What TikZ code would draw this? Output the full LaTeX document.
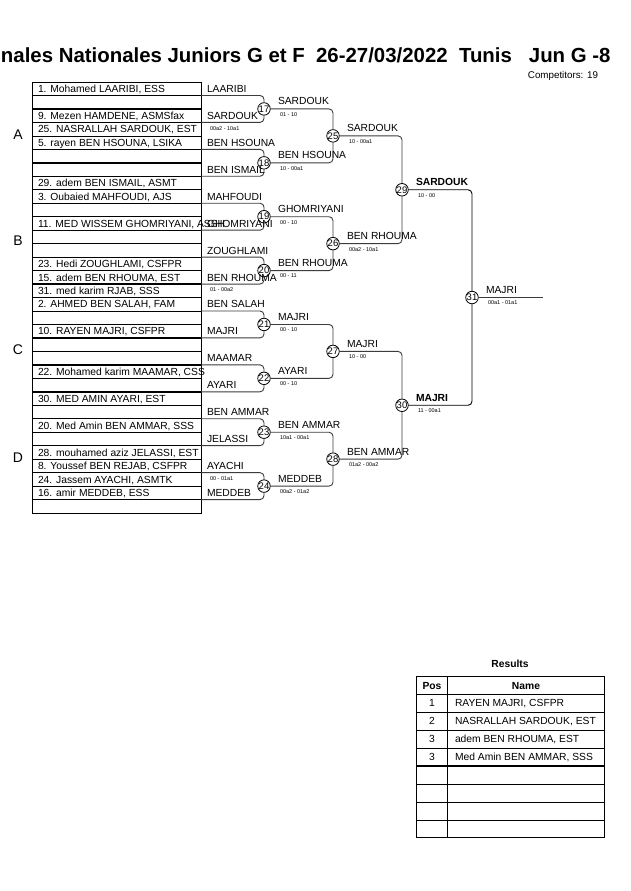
\documentclass[tikz,border=0pt]{standalone}
\usepackage{fontspec}
\setmainfont{Liberation Sans}
\definecolor{linec}{HTML}{3C3C3C}
\begin{document}
\begin{tikzpicture}[x=1pt,y=-1pt,
  every node/.style={inner sep=0pt, outer sep=0pt},
  txt/.style={anchor=base west, font=\fontsize{10.3}{12}\selectfont},
  btxt/.style={anchor=base west, font=\fontsize{10.3}{12}\selectfont\bfseries},
  ctxt/.style={anchor=base, font=\fontsize{10.3}{12}\selectfont},
  bctxt/.style={anchor=base, font=\fontsize{10.3}{12}\selectfont\bfseries},
  sc/.style={anchor=west, font=\fontsize{5.5}{6}\selectfont},
  mc/.style={circle, draw=black, fill=white, line width=0.8pt, minimum size=12.5pt, font=\fontsize{9.5}{10}\selectfont},
  bl/.style={draw=linec, line width=0.9pt, rounded corners=4pt},
  septhin/.style={draw=black, line width=0.6pt},
  septhick/.style={draw=black, line width=1.4pt},
  grp/.style={font=\fontsize{14}{16}\selectfont}
]
\useasboundingbox (0,0) rectangle (630,891);
\fill[white] (0,0) rectangle (630,891);

% title
\node[anchor=base west, font=\fontsize{20.4}{24}\selectfont\bfseries] (title) at (1,63)
  {nales Nationales Juniors G et F\ \ 26-27/03/2022\ \ Tunis\ \ \ Jun G -8};
\node[anchor=base east, font=\fontsize{9.8}{11}\selectfont] (comp) at (598,78) {Competitors: 19};

% group letters
\node[grp] (gA) at (18,135) {A};
\node[grp] (gB) at (18,241) {B};
\node[grp] (gC) at (18,350) {C};
\node[grp] (gD) at (18,458) {D};

% draw table
\foreach \i in {1,4,5,9,11,13,17,20,22,27,28,29,30}
  \draw[septhin] (32,{82+13.47*\i}) -- (201,{82+13.47*\i});
\foreach \i in {2,3,6,7,8,10,12,14,15,16,18,19,21,23,24,25,26,31}
  \draw[septhick] (32,{82+13.47*\i}) -- (201,{82+13.47*\i});
\draw[line width=1pt] (32,82) rectangle (201,513.04);

\foreach \i/\t in {1/{1. Mohamed LAARIBI, ESS},3/{9. Mezen HAMDENE, ASMSfax},
  4/{25. NASRALLAH SARDOUK, EST},5/{5. rayen BEN HSOUNA, LSIKA},8/{29. adem BEN ISMAIL, ASMT},
  9/{3. Oubaied MAHFOUDI, AJS},11/{11. MED WISSEM GHOMRIYANI, ASSH},14/{23. Hedi ZOUGHLAMI, CSFPR},
  15/{15. adem BEN RHOUMA, EST},16/{31. med karim RJAB, SSS},17/{2. AHMED BEN SALAH, FAM},
  19/{10. RAYEN MAJRI, CSFPR},22/{22. Mohamed karim MAAMAR, CSS},24/{30. MED AMIN AYARI, EST},
  26/{20. Med Amin BEN AMMAR, SSS},28/{28. mouhamed aziz JELASSI, EST},29/{8. Youssef BEN REJAB, CSFPR},
  30/{24. Jassem AYACHI, ASMTK},31/{16. amir MEDDEB, ESS}}
  \node[txt] (row\i) at (38,{82+13.47*(\i-0.5)+3.7}) {\t};

% round 1 circles and brackets
\foreach \k in {0,...,7} {
  \pgfmathtruncatemacro\m{17+\k}
  \node[mc] (m\m) at (264,{108.94+53.88*\k}) {\m};
  \coordinate (t\m) at (201,{82+13.47*(4*\k+1)});
  \coordinate (b\m) at (201,{82+13.47*(4*\k+3)});
  \draw[bl] (t\m) -| (m\m.north);
  \draw[bl] (b\m) -| (m\m.south);
}
% round 1 names
\foreach \k/\a/\b in {0/LAARIBI/SARDOUK,1/BEN HSOUNA/BEN ISMAIL,2/MAHFOUDI/GHOMRIYANI,
  3/ZOUGHLAMI/BEN RHOUMA,4/BEN SALAH/MAJRI,5/MAAMAR/AYARI,6/BEN AMMAR/JELASSI,7/AYACHI/MEDDEB} {
  \node[txt] (pa\k) at (207,{82+13.47*(4*\k+0.5)+3.7}) {\a};
  \node[txt] (pb\k) at (207,{82+13.47*(4*\k+2.5)+3.7}) {\b};
}
\node[sc] (r1s17) at (210,128.2) {00a2 - 10a1};
\node[sc] (r1s20) at (210,289.8) {01 - 00a2};
\node[sc] (r1s24) at (210,478.4) {00 - 01a1};

% later rounds
\node[mc] (m25) at (333,135.88) {25};
\node[mc] (m26) at (333,243.64) {26};
\node[mc] (m27) at (333,351.40) {27};
\node[mc] (m28) at (333,459.16) {28};
\node[mc] (m29) at (402,189.76) {29};
\node[mc] (m30) at (402,405.28) {30};
\node[mc] (m31) at (472,297.52) {31};
\coordinate (fin) at (543,297.52);

\draw[bl] (m17.east) -| (m25.north);
\draw[bl] (m18.east) -| (m25.south);
\draw[bl] (m19.east) -| (m26.north);
\draw[bl] (m20.east) -| (m26.south);
\draw[bl] (m21.east) -| (m27.north);
\draw[bl] (m22.east) -| (m27.south);
\draw[bl] (m23.east) -| (m28.north);
\draw[bl] (m24.east) -| (m28.south);
\draw[bl] (m25.east) -| (m29.north);
\draw[bl] (m26.east) -| (m29.south);
\draw[bl] (m27.east) -| (m30.north);
\draw[bl] (m28.east) -| (m30.south);
\draw[bl,draw=black] (m29.east) -| (m31.north);
\draw[bl,draw=black] (m30.east) -| (m31.south);
\draw[bl] (m31.east) -- (fin);

% winner labels
\foreach \c/\n/\s in {17/SARDOUK/01 - 10,18/BEN HSOUNA/10 - 00a1,19/GHOMRIYANI/00 - 10,
  20/BEN RHOUMA/00 - 11,21/MAJRI/00 - 10,22/AYARI/00 - 10,23/BEN AMMAR/10a1 - 00a1,
  24/MEDDEB/00a2 - 01a2,25/SARDOUK/10 - 00a1,26/BEN RHOUMA/00a2 - 10a1,27/MAJRI/10 - 00,
  28/BEN AMMAR/01a2 - 00a2,31/MAJRI/00a1 - 01a1} {
  \node[txt] (w\c) at ([xshift=14pt,yshift=4pt]m\c.center) {\n};
  \node[sc] (s\c) at ([xshift=16pt,yshift=-5.5pt]m\c.center) {\s};
}
\foreach \c/\n/\s in {29/SARDOUK/10 - 00,30/MAJRI/11 - 00a1} {
  \node[btxt] (w\c) at ([xshift=14pt,yshift=4pt]m\c.center) {\n};
  \node[sc] (s\c) at ([xshift=16pt,yshift=-5.5pt]m\c.center) {\s};
}

% results
\node[anchor=base, font=\fontsize{10.3}{12}\selectfont\bfseries] (restitle) at (510,667.5) {Results};
\foreach \y in {712.2,730.2,783.9,801.9,819.8}
  \draw[septhin] (416.5,\y) -- (604.5,\y);
\foreach \y in {748.1,766.0}
  \draw[line width=1.1pt] (416.5,\y) -- (604.5,\y);
\draw[line width=1.2pt] (416.5,694.3) -- (604.5,694.3);
\draw[line width=0.8pt] (447.3,676.5) -- (447.3,837.7);
\draw[line width=1.3pt] (416.5,676.5) rectangle (604.5,837.7);
\node[bctxt] (hpos) at (432,689.2) {Pos};
\node[bctxt] (hname) at (526,689.2) {Name};
\foreach \i/\p/\n in {1/1/{RAYEN MAJRI, CSFPR},2/2/{NASRALLAH SARDOUK, EST},
  3/3/{adem BEN RHOUMA, EST},4/3/{Med Amin BEN AMMAR, SSS}} {
  \node[ctxt] (rp\i) at (432,{694.3+17.93*(\i-0.5)+3.7}) {\p};
  \node[txt] (rn\i) at (455,{694.3+17.93*(\i-0.5)+3.7}) {\n};
}
\end{tikzpicture}
\end{document}
